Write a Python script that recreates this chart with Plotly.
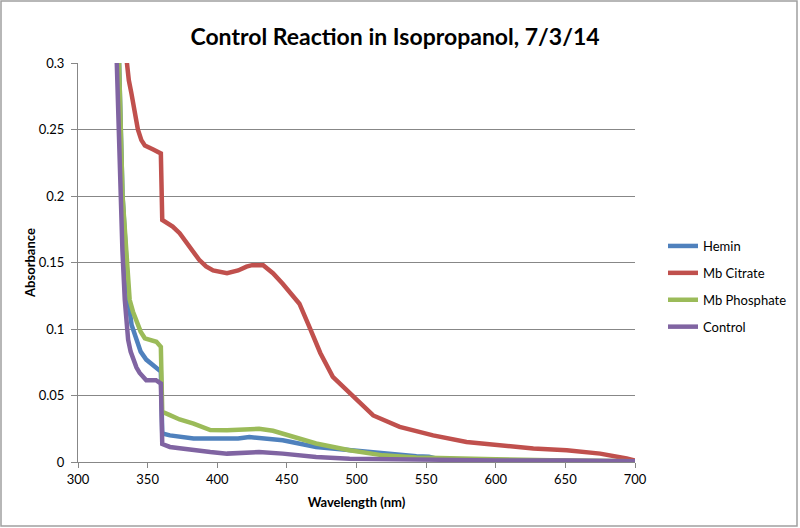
import plotly.graph_objects as go

# Hemin (blue)
hemin_wl = [325, 329.5, 332, 334.3, 336.7, 338.5, 342, 345, 349, 357.5, 359.5, 360.5, 366, 383, 400, 415, 423,
            447, 471, 495, 519, 543, 552, 560, 580, 620, 660, 700]
hemin_abs = [0.42, 0.30, 0.20, 0.159, 0.117, 0.103, 0.092, 0.083, 0.077, 0.070, 0.068, 0.0214, 0.020, 0.0176,
             0.018, 0.0176, 0.0188, 0.0163, 0.0113, 0.0088, 0.0063, 0.0043, 0.004, 0.002, 0.0012, 0.001, 0.001,
             0.0005]

# Mb Citrate (red)
citrate_wl = [332, 334.8, 336.5, 338.4, 340.5, 343, 345.5, 348, 354, 359.5, 360.5, 368, 373, 378, 383, 387,
              392, 397, 407, 415, 421, 425, 433, 440, 447, 459, 466, 474, 483, 497.5, 512, 531, 555, 579, 603,
              627, 651, 675, 694, 700]
citrate_abs = [0.33, 0.30, 0.287, 0.277, 0.263, 0.25, 0.242, 0.238, 0.235, 0.232, 0.182, 0.177, 0.172, 0.165,
               0.158, 0.152, 0.147, 0.144, 0.142, 0.144, 0.1469, 0.148, 0.148, 0.142, 0.134, 0.119, 0.102,
               0.082, 0.064, 0.049, 0.035, 0.0264, 0.020, 0.015, 0.0126, 0.0101, 0.0088, 0.0063, 0.0026, 0.001]

# Mb Phosphate (green)
phosphate_wl = [325, 329.5, 332, 334.3, 335.5, 337.1, 339.5, 342, 345, 348, 356.3, 359.5, 360.5, 366, 373, 383,
                395, 407, 420, 430, 440, 452, 471, 495, 519, 543, 570, 600, 650, 700]
phosphate_abs = [0.42, 0.30, 0.20, 0.159, 0.137, 0.122, 0.113, 0.107, 0.098, 0.093, 0.0904, 0.0866, 0.0377,
                 0.0352, 0.032, 0.0289, 0.024, 0.0239, 0.0245, 0.025, 0.0235, 0.020, 0.0139, 0.0088, 0.005,
                 0.0033, 0.0025, 0.002, 0.0012, 0.0005]

# Control (purple)
control_wl = [325, 327.6, 329.5, 331.9, 333.6, 334.8, 336, 337.8, 339.6, 342, 344.3, 349, 356, 359.5, 360.5, 366,
              373, 383, 395, 407, 420, 430, 447, 471, 495, 520, 560, 600, 650, 700]
control_abs = [0.40, 0.30, 0.227, 0.159, 0.122, 0.104, 0.092, 0.083, 0.077, 0.071, 0.067, 0.0615, 0.0615, 0.059,
               0.0135, 0.0113, 0.0103, 0.0088, 0.0075, 0.0063, 0.0070, 0.0075, 0.0063, 0.0038, 0.0025, 0.002,
               0.0015, 0.0012, 0.0012, 0.0005]

x_ticks = [300, 350, 400, 450, 500, 550, 600, 650, 700]
y_ticks = [0, 0.05, 0.1, 0.15, 0.2, 0.25, 0.3]

series = [
    ("Hemin", hemin_wl, hemin_abs, "#4F81BD"),
    ("Mb Citrate", citrate_wl, citrate_abs, "#C0504D"),
    ("Mb Phosphate", phosphate_wl, phosphate_abs, "#9BBB59"),
    ("Control", control_wl, control_abs, "#8064A2"),
]

FONT = "Lato, Carlito, Liberation Sans, sans-serif"
GRID = "#878787"

fig = go.Figure()
for name, xs, ys, col in series:
    fig.add_trace(go.Scatter(x=xs, y=ys, mode="lines", name=name, legendgroup=name,
                             line=dict(color=col, width=4.5)))

L, R, T, B = 78, 165, 63, 66
W, H = 800, 528
pw, ph = W - L - R, H - T - B

fig.update_layout(
    width=W, height=H,
    margin=dict(l=L, r=R, t=T, b=B, autoexpand=False),
    paper_bgcolor="white", plot_bgcolor="white",
    font=dict(family=FONT, size=13, color="black"),
    title=dict(text="<b>Control Reaction in Isopropanol, 7/3/14</b>", x=395 / W, xanchor="center",
               y=1 - 37 / H, yanchor="middle", font=dict(size=23, family=FONT)),
    showlegend=True,
    legend=dict(xref="container", yref="container", x=663 / W, xanchor="left", y=1 - 231 / H, yanchor="top",
                font=dict(size=13, family=FONT), tracegroupgap=7, traceorder="grouped",
                bgcolor="rgba(0,0,0,0)"),
    xaxis=dict(range=[300, 700], tickvals=x_ticks, showgrid=False, zeroline=False,
               showline=True, linecolor=GRID, linewidth=1, ticks="outside", ticklen=5, tickcolor=GRID,
               title=dict(text="<b>Wavelength (nm)</b>", font=dict(size=13), standoff=12)),
    yaxis=dict(range=[0, 0.3], tickvals=y_ticks, showgrid=True, gridcolor=GRID, gridwidth=1, zeroline=False,
               showline=True, linecolor=GRID, linewidth=1, ticks="outside", ticklen=6, tickcolor=GRID,
               ticklabelstandoff=4,
               title=dict(text="<b>Absorbance</b>", font=dict(size=13), standoff=0)),
    shapes=[dict(type="rect", xref="paper", yref="paper",
                 x0=(1 - L) / pw, x1=(W - 3 - L) / pw,
                 y0=-(B - 2) / ph, y1=(H - B - 1) / ph,
                 line=dict(color="#A0A0A0", width=1.5), fillcolor="rgba(0,0,0,0)", layer="below")],
)

fig.write_html("out.html", config={"displayModeBar": False},
               post_script="document.body.style.margin='0';document.body.style.overflow='hidden';")
